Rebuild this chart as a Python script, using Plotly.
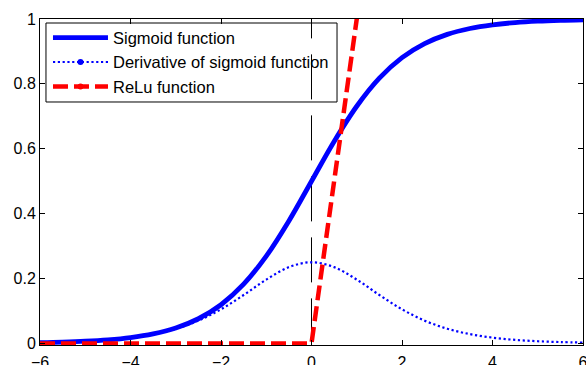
import plotly.graph_objects as go

# Data
x_vals = [-6, -5.5, -5, -4.5, -4, -3.5, -3, -2.5, -2, -1.5, -1, -0.5, 0,
          0.5, 1, 1.5, 2, 2.5, 3, 3.5, 4, 4.5, 5, 5.5, 6]
sigmoid_vals = [0.0025, 0.0041, 0.0067, 0.0110, 0.0180, 0.0293, 0.0474, 0.0759,
                0.1192, 0.1824, 0.2689, 0.3775, 0.5000, 0.6225, 0.7311, 0.8176,
                0.8808, 0.9241, 0.9526, 0.9707, 0.9820, 0.9890, 0.9933, 0.9959, 0.9975]
deriv_vals = [0.0025, 0.0041, 0.0066, 0.0108, 0.0177, 0.0285, 0.0452, 0.0701,
              0.1050, 0.1491, 0.1966, 0.2350, 0.2500, 0.2350, 0.1966, 0.1491,
              0.1050, 0.0701, 0.0452, 0.0285, 0.0177, 0.0108, 0.0066, 0.0041, 0.0025]
relu_x = [-6, 0, 6]
relu_y = [0, 0, 6]
x_ticks = [-6, -4, -2, 0, 2, 4, 6]
y_ticks = [0, 0.2, 0.4, 0.6, 0.8, 1]
names = ["Sigmoid function", "Derivative of sigmoid function", "ReLu function"]

BLUE = "#0000ff"
RED = "#ff0000"
FONT = "Liberation Sans, Arial, sans-serif"

fig = go.Figure()

# vertical reference line at x = 0
fig.add_trace(go.Scatter(x=[0, 0], y=[0, 1], mode="lines",
                         line=dict(color="black", width=1, dash="45px,16px"),
                         showlegend=False, hoverinfo="skip"))

fig.add_trace(go.Scatter(x=x_vals, y=sigmoid_vals, mode="lines", line_shape="spline",
                         line=dict(color=BLUE, width=4.8), showlegend=False))
fig.add_trace(go.Scatter(x=x_vals, y=deriv_vals, mode="lines", line_shape="spline",
                         line=dict(color=BLUE, width=2.2, dash="2.2px,2.6px"),
                         showlegend=False))
fig.add_trace(go.Scatter(x=relu_x, y=relu_y, mode="lines",
                         line=dict(color=RED, width=4.5, dash="15px,6px"),
                         showlegend=False))

# legend entries
fig.add_trace(go.Scatter(x=[None], y=[None], mode="lines", name=names[0],
                         line=dict(color=BLUE, width=4.8)))
fig.add_trace(go.Scatter(x=[None], y=[None], mode="lines+markers", name=names[1],
                         line=dict(color=BLUE, width=2.2, dash="2.2px,2.6px"),
                         marker=dict(color=BLUE, size=6)))
fig.add_trace(go.Scatter(x=[None], y=[None], mode="lines+markers", name=names[2],
                         line=dict(color=RED, width=4.5, dash="15px,6px"),
                         marker=dict(color=RED, size=6)))

axis_common = dict(showline=True, linecolor="black", linewidth=1, mirror="ticks",
                   ticks="inside", ticklen=5, tickcolor="black", showgrid=False,
                   zeroline=False, automargin=False, ticklabeloverflow="allow",
                   tickfont=dict(family=FONT, size=16, color="black"))

fig.update_layout(
    width=586, height=365,
    margin=dict(l=40, r=3, t=19, b=20),
    paper_bgcolor="white", plot_bgcolor="white",
    xaxis=dict(range=[-6, 6], tickvals=x_ticks, ticklabelstandoff=3, **axis_common),
    yaxis=dict(range=[-0.005, 1], tickvals=y_ticks,
               ticktext=[str(v) for v in y_ticks], **axis_common),
    legend=dict(x=0.0147, y=0.996, xanchor="left", yanchor="top",
                bgcolor="rgba(255,255,255,0)", borderwidth=0,
                font=dict(family=FONT, size=16.5, color="black"),
                itemwidth=55, tracegroupgap=0),
    shapes=[dict(type="rect", xref="paper", yref="paper",
                 x0=0.011, x1=0.547, y0=0.7454, y1=0.9877,
                 line=dict(color="black", width=1), fillcolor="rgba(0,0,0,0)",
                 layer="above")],
    showlegend=True,
)

fig.write_html("out.html", config={"displayModeBar": False},
               post_script="document.body.style.margin='0';document.body.style.padding='0';")
